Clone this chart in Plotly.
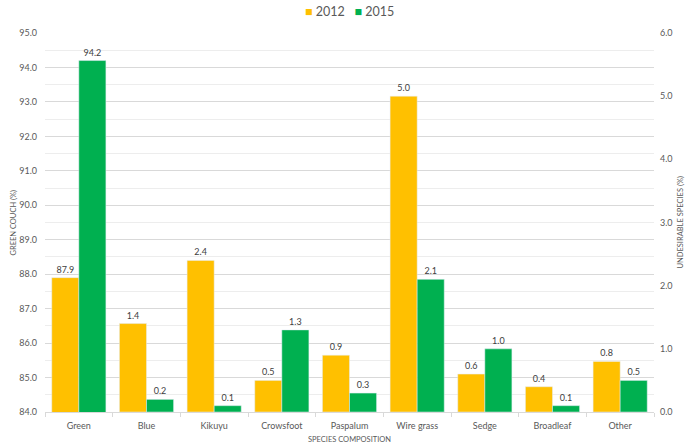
import plotly.graph_objects as go

categories = ["Green", "Blue", "Kikuyu", "Crowsfoot", "Paspalum", "Wire grass", "Sedge", "Broadleaf", "Other"]
# green couch (left axis)
green_2012 = [87.9]
green_2015 = [94.2]
# undesirable species (right axis)
other_2012 = [1.4, 2.4, 0.5, 0.9, 5.0, 0.6, 0.4, 0.8]
other_2015 = [0.2, 0.1, 1.3, 0.3, 2.1, 1.0, 0.1, 0.5]
years = ["2012", "2015"]

yellow = "#FFC000"
green = "#00B050"
grey = "#595959"
lab_font = dict(family="Lato, Open Sans, sans-serif", size=9, color="#404040")
title_font = dict(family="Lato, Open Sans, sans-serif", size=7.5, color=grey)


def bar(x, y, color, offset, axis):
    return go.Bar(x=x, y=y, marker_color=color, width=0.4, offset=offset, yaxis=axis,
                  texttemplate="%{y:.1f}", textposition="outside", textfont=lab_font,
                  cliponaxis=False, showlegend=False)


fig = go.Figure()
fig.add_trace(bar(categories[:1], green_2012, yellow, -0.4, "y"))
fig.add_trace(bar(categories[:1], green_2015, green, 0, "y"))
fig.add_trace(bar(categories[1:], other_2012, yellow, -0.4, "y2"))
fig.add_trace(bar(categories[1:], other_2015, green, 0, "y2"))

legend_text = ("<span style='color:%s'>■</span> %s   <span style='color:%s'>■</span> %s"
               % (yellow, years[0], green, years[1]))

fig.update_layout(
    width=692, height=445,
    margin=dict(l=45, r=38, t=33, b=33, autoexpand=False),
    plot_bgcolor="white", paper_bgcolor="white",
    font=dict(family="Lato, Open Sans, sans-serif", size=9, color=grey),
    showlegend=False,
    xaxis=dict(categoryorder="array", categoryarray=categories, range=[-0.5, 8.5],
               tickson="boundaries", ticks="outside", ticklen=4, tickcolor="#D9D9D9",
               ticklabelstandoff=5,
               showline=True, linecolor="#D9D9D9", showgrid=False, automargin=False),
    yaxis=dict(range=[84, 95], dtick=1, tickformat=".1f", showgrid=True, gridcolor="#D9D9D9",
               minor=dict(dtick=0.5, showgrid=True, gridcolor="#EDEDED"),
               zeroline=False, ticks="", ticklabelstandoff=7, automargin=False),
    yaxis2=dict(range=[0, 6], dtick=1, tickformat=".1f", overlaying="y", side="right",
                showgrid=False, zeroline=False, ticks="", ticklabelstandoff=5, automargin=False),
    annotations=[
        dict(text=legend_text, xref="paper", yref="paper", x=0.5, y=1.058,
             xanchor="center", yanchor="middle", showarrow=False,
             font=dict(family="Lato, Open Sans, sans-serif", size=12.5, color=grey)),
        dict(text="SPECIES COMPOSITION", xref="paper", yref="paper", x=0.5, y=-0.073,
             xanchor="center", yanchor="middle", showarrow=False, font=title_font),
        dict(text="GREEN COUCH (%)", xref="paper", yref="paper", x=-0.0525, y=0.5,
             xanchor="center", yanchor="middle", textangle=-90, showarrow=False, font=title_font),
        dict(text="UNDESIRABLE SPECIES (%)", xref="paper", yref="paper", x=1.0427, y=0.5,
             xanchor="center", yanchor="middle", textangle=-90, showarrow=False, font=title_font),
    ],
)

fig.write_html("out.html", config={"displayModeBar": False},
               post_script="document.body.style.margin='0';")
